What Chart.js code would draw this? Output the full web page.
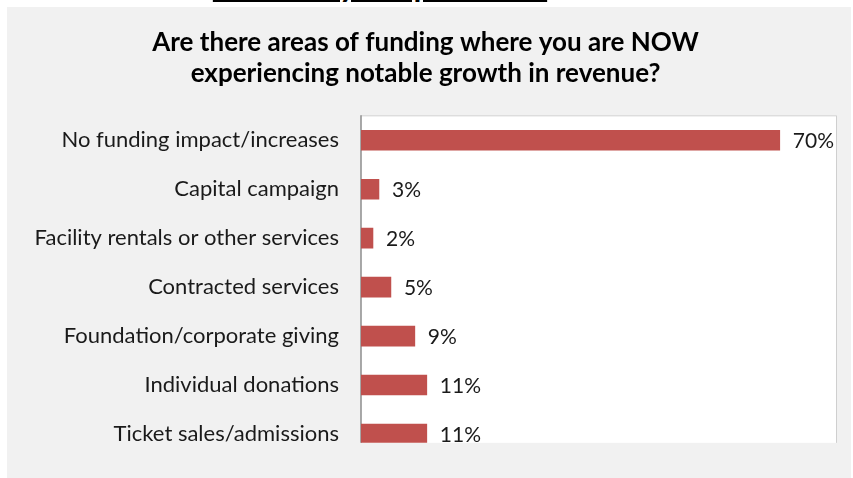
<!DOCTYPE html>
<html>
<head>
<meta charset="utf-8">
<script src="https://cdn.jsdelivr.net/npm/chart.js@4.4.1/dist/chart.umd.min.js"></script>
<style>
  html, body { margin: 0; padding: 0; background: #fff; }
  #page { position: relative; width: 853px; height: 478px; overflow: hidden; }
  #heading {
    position: absolute; left: 211px; top: -35px; width: 338px;
    font: bold 32px Lato, sans-serif; text-decoration: underline;
    white-space: nowrap; color: #000; text-align: center;
  }
  #panel { position: absolute; left: 7px; top: 7px; width: 844px; height: 471px; background: #f1f1f1; }
  #chart { position: absolute; left: 0; top: 0; }
</style>
</head>
<body>
<div id="page">
  <div id="heading">All Survey Respondents</div>
  <div id="panel"></div>
  <canvas id="chart" width="853" height="478"></canvas>
</div>
<script>
const titleLines = ['Are there areas of funding where you are NOW', 'experiencing notable growth in revenue?'];
const categories = [
    'No funding impact/increases',
    'Capital campaign',
    'Facility rentals or other services',
    'Contracted services',
    'Foundation/corporate giving',
    'Individual donations',
    'Ticket sales/admissions'
];
const percents = [70, 3, 2, 5, 9, 11, 11];

const barColor = '#c0504d';
const font = 'Lato, sans-serif';

// white plot box with thin border, dark axis line on the left
const plotBox = {
    id: 'plotBox',
    beforeDraw(chart) {
        const { ctx, chartArea: a } = chart;
        ctx.save();
        ctx.fillStyle = '#fff';
        ctx.fillRect(a.left, a.top, a.right - a.left, a.bottom - a.top);
        ctx.strokeStyle = '#cfcfcf';
        ctx.lineWidth = 1;
        ctx.beginPath();
        ctx.moveTo(a.left, a.top + 0.5);
        ctx.lineTo(a.right + 0.5, a.top + 0.5);
        ctx.lineTo(a.right + 0.5, a.bottom);
        ctx.stroke();
        ctx.strokeStyle = '#8c8c8c';
        ctx.lineWidth = 1.5;
        ctx.beginPath();
        ctx.moveTo(a.left, a.top);
        ctx.lineTo(a.left, a.bottom);
        ctx.stroke();
        ctx.restore();
    }
};

// percent labels at the end of each bar, cut off at the plot edge like the bars
const valueLabels = {
    id: 'valueLabels',
    afterDatasetsDraw(chart) {
        const { ctx, chartArea: a } = chart;
        const meta = chart.getDatasetMeta(0);
        ctx.save();
        ctx.beginPath();
        ctx.rect(a.left, a.top, a.right - a.left, a.bottom - a.top);
        ctx.clip();
        ctx.fillStyle = '#1a1a1a';
        ctx.font = '21px ' + font;
        ctx.textBaseline = 'middle';
        meta.data.forEach((bar, i) => {
            ctx.fillText(percents[i] + '%', bar.x + 13, bar.y + 1);
        });
        ctx.restore();
    }
};

new Chart(document.getElementById('chart'), {
    type: 'bar',
    data: {
        datasets: [{
            data: percents.map((v, i) => ({ x: v, y: i })),
            backgroundColor: barColor,
            borderWidth: 0,
            barThickness: 20
        }]
    },
    options: {
        indexAxis: 'y',
        responsive: false,
        animation: false,
        layout: { padding: { left: 15, right: 17, top: 0, bottom: 34 } },
        plugins: {
            legend: { display: false },
            tooltip: { enabled: false },
            title: {
                display: true,
                text: titleLines,
                color: '#000',
                font: { family: font, size: 26, weight: 'bold', lineHeight: 1.16 },
                padding: { top: 28, bottom: 27 }
            }
        },
        scales: {
            x: {
                type: 'linear',
                min: 0,
                max: 79.4,
                display: false
            },
            y: {
                type: 'linear',
                reverse: true,
                offset: false,
                min: -0.51,
                max: 6.18,
                border: { display: false },
                grid: { display: false, drawTicks: false, offset: false },
                afterFit(scale) { scale.width = 346; },
                ticks: {
                    stepSize: 1,
                    includeBounds: false,
                    autoSkip: false,
                    padding: 22,
                    color: '#1a1a1a',
                    font: { family: font, size: 22 },
                    callback: v => Number.isInteger(v) ? categories[v] : ''
                }
            }
        }
    },
    plugins: [plotBox, valueLabels]
});
</script>
</body>
</html>
